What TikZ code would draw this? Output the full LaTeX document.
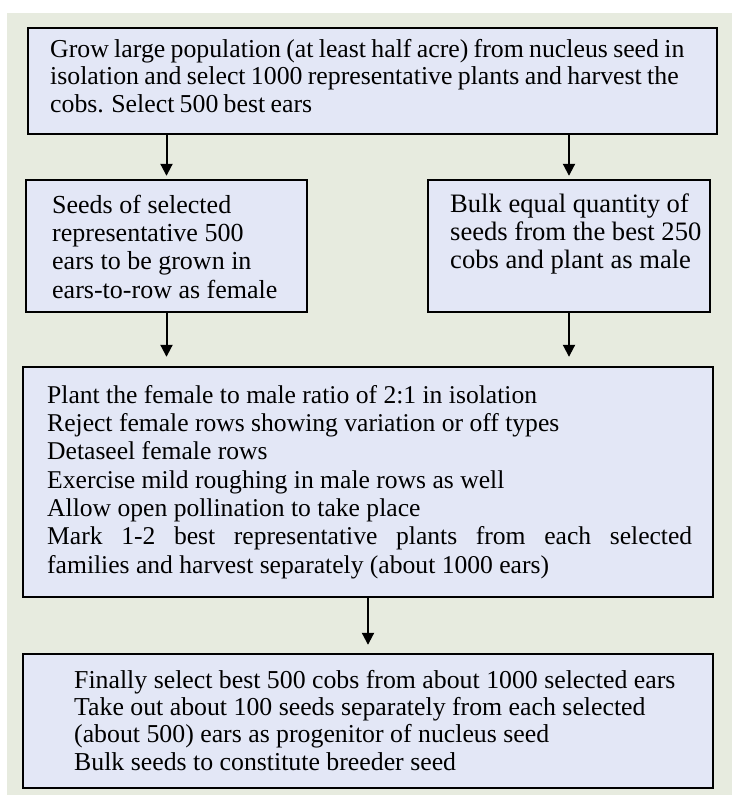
\documentclass[tikz,border=0pt]{standalone}
\usepackage{fontspec}
\setmainfont{Liberation Serif}
\usetikzlibrary{arrows.meta}
\definecolor{pagebg}{RGB}{231,235,223}
\definecolor{boxfill}{RGB}{227,231,246}
% narrower word spaces for the top box
\newcommand{\narrowspaces}{\spaceskip=5.3pt plus 1pt minus 1pt\relax}
\begin{document}
\begin{tikzpicture}[x=1pt,y=-1pt,
  stagebox/.style={draw=black, line width=2.4pt, fill=boxfill, inner sep=0pt},
  txt/.style={anchor=base west, align=left, inner sep=0pt},
  flow/.style={line width=2pt, -{Triangle[length=12pt,width=12pt]}}]
\useasboundingbox (0,0) rectangle (737,798);
\fill[white] (0,0) rectangle (737,798);
\fill[pagebg] (7,13) rectangle (732,795);

% stage boxes
\node[stagebox, minimum width=689pt, minimum height=106pt] (b1) at (372.5,81) {};
\node[stagebox, minimum width=281pt, minimum height=132pt] (b2) at (166.5,246) {};
\node[stagebox, minimum width=282pt, minimum height=132pt] (b3) at (569,246) {};
\node[stagebox, minimum width=690pt, minimum height=230pt] (b4) at (368,482) {};
\node[stagebox, minimum width=690pt, minimum height=134pt] (b5) at (368,721) {};

% texts (each node is placed by the baseline of its last line)
\node[txt, font=\fontsize{25.8}{27.5}\selectfont\narrowspaces] (t1) at (50,112) {Grow large population (at least half acre) from nucleus seed in\\
isolation and select 1000 representative plants and harvest the\\
cobs. Select 500 best ears};
\node[txt, font=\fontsize{26}{28.3}\selectfont] (t2) at (52,298) {Seeds of selected\\
representative 500\\
ears to be grown in\\
ears-to-row as female};
\node[txt, font=\fontsize{26.6}{28}\selectfont] (t3) at (450,268) {Bulk equal quantity of\\
seeds from the best 250\\
cobs and plant as male};
\node[txt, font=\fontsize{25.6}{28.3}\selectfont] (t4) at (47,573) {Plant the female to male ratio of 2:1 in isolation\\
Reject female rows showing variation or off types\\
Detaseel female rows\\
Exercise mild roughing in male rows as well\\
Allow open pollination to take place\\
\makebox[645pt][s]{Mark 1-2 best representative plants from each selected}\\
families and harvest separately (about 1000 ears)};
\node[txt, font=\fontsize{25.8}{27.3}\selectfont] (t5) at (74,770) {Finally select best 500 cobs from about 1000 selected ears\\
Take out about 100 seeds separately from each selected\\
(about 500) ears as progenitor of nucleus seed\\
Bulk seeds to constitute breeder seed};

% connectors
\draw[flow, shorten >=3pt] (b1.south -| b2.north) -- (b2.north);
\draw[flow, shorten >=3pt] (b1.south -| b3.north) -- (b3.north);
\draw[flow, shorten >=9pt] (b2.south) -- (b2.south |- b4.north);
\draw[flow, shorten >=9pt] (b3.south) -- (b3.south |- b4.north);
\draw[flow, shorten >=8pt] (b4.south) -- (b5.north);
\end{tikzpicture}
\end{document}
